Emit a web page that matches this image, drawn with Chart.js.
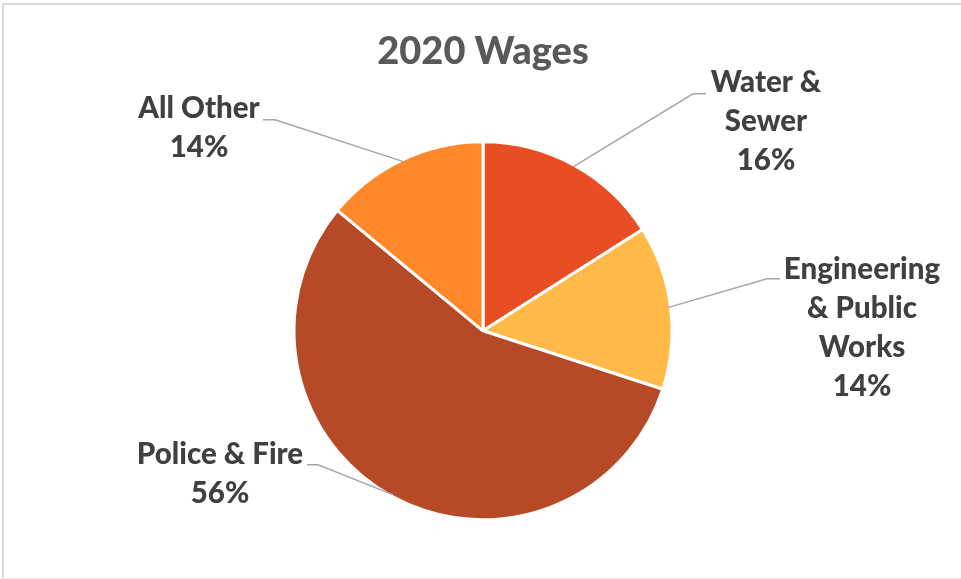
<!DOCTYPE html>
<html>
<head>
<meta charset="utf-8">
<title>2020 Wages</title>
<script src="https://cdn.jsdelivr.net/npm/chart.js@4"></script>
<style>
  html, body { margin: 0; padding: 0; background: #fff; overflow: hidden; }
  #frame {
    position: absolute; left: 2px; top: 3px; width: 980px; height: 573px;
    border-left: 2px solid #d9d9d9; border-top: 2px solid #d9d9d9; border-bottom: 1px solid #ececec;
  }
  #wagesChart { position: absolute; left: 0; top: 0; }
</style>
</head>
<body>
<div id="frame"></div>
<canvas id="wagesChart" width="961" height="579"></canvas>
<script>
// Wage share by department, clockwise from 12 o'clock
const departments = [['Water &', 'Sewer'], ['Engineering', '& Public', 'Works'], ['Police & Fire'], ['All Other']];
const wageShare = [16, 14, 56, 14];
const sliceColors = ['#E84E23', '#FFBA48', '#B64A26', '#FF8828'];

// Where each callout sits, in px from the pie centre: elbow of the leader, tail direction, first text line
const calloutSpots = [
  { elbow: [210, -237], tail: 13, text: [283, -248] },
  { elbow: [284, -52], tail: 13, text: [379, -61] },
  { elbow: [-165, 134], tail: -11, text: [-263, 124] },
  { elbow: [-208, -211], tail: -12, text: [-284, -222] }
];

const labelFont = '900 29.5px Lato, "Open Sans", sans-serif';
const lineStep = 39;

// Leader lines + category/percent labels
const calloutPlugin = {
  id: 'callouts',
  afterDatasetsDraw(chart) {
    const ctx = chart.ctx;
    const data = chart.data.datasets[0].data;
    const total = data.reduce((a, b) => a + b, 0);
    chart.getDatasetMeta(0).data.forEach((arc, i) => {
      const { x, y, startAngle, endAngle, outerRadius } = arc.getProps(['x', 'y', 'startAngle', 'endAngle', 'outerRadius'], true);
      const mid = (startAngle + endAngle) / 2;
      const spot = calloutSpots[i];
      const sx = x + Math.cos(mid) * (outerRadius - 2);
      const sy = y + Math.sin(mid) * (outerRadius - 2);
      const ex = x + spot.elbow[0];
      const ey = y + spot.elbow[1];

      ctx.save();
      ctx.strokeStyle = '#a6a6a6';
      ctx.lineWidth = 1.5;
      ctx.beginPath();
      ctx.moveTo(sx, sy);
      ctx.lineTo(ex, ey);
      ctx.lineTo(ex + spot.tail, ey);
      ctx.stroke();

      const lines = [].concat(chart.data.labels[i], Math.round(data[i] / total * 100) + '%');
      ctx.font = labelFont;
      ctx.fillStyle = '#404040';
      ctx.textAlign = 'center';
      ctx.textBaseline = 'middle';
      lines.forEach((line, k) => {
        ctx.fillText(line, x + spot.text[0], y + spot.text[1] + k * lineStep);
      });
      ctx.restore();
    });
  }
};

new Chart(document.getElementById('wagesChart'), {
  type: 'pie',
  data: {
    labels: departments,
    datasets: [{
      data: wageShare,
      backgroundColor: sliceColors,
      borderColor: '#ffffff',
      borderWidth: 3
    }]
  },
  options: {
    responsive: false,
    animation: false,
    radius: 189,
    layout: { padding: { left: 5, right: 0, top: 0, bottom: 2 } },
    plugins: {
      legend: { display: false },
      tooltip: { enabled: false },
      title: {
        display: true,
        text: '2020 Wages',
        color: '#595959',
        font: { family: 'Lato, "Open Sans", sans-serif', size: 38, weight: 900 },
        padding: { top: 29, bottom: 10 }
      }
    }
  },
  plugins: [calloutPlugin]
});
</script>
</body>
</html>
